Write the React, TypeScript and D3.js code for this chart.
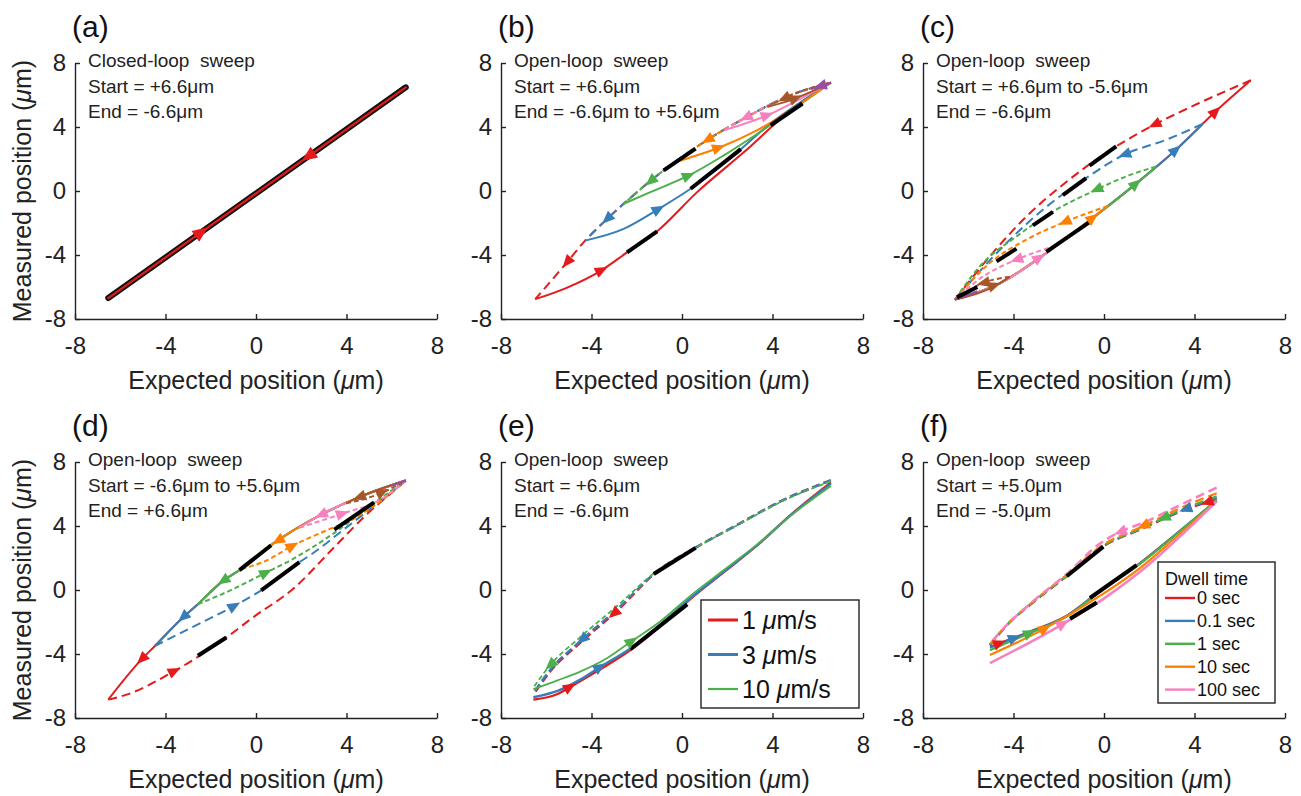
import React, { useEffect, useRef } from 'react';
import * as d3 from 'd3';

type Pt = [number, number];

const ticks = [-8, -4, 0, 4, 8];
const colors = ['#e41a1c', '#377eb8', '#4daf4a', '#ff7f00', '#f781bf', '#a65628', '#984ea3'];
const panelNames = ['(a)', '(b)', '(c)', '(d)', '(e)', '(f)'];
const notes = [
  ['Closed-loop  sweep', 'Start = +6.6μm', 'End = -6.6μm'],
  ['Open-loop  sweep', 'Start = +6.6μm', 'End = -6.6μm to +5.6μm'],
  ['Open-loop  sweep', 'Start = +6.6μm to -5.6μm', 'End = -6.6μm'],
  ['Open-loop  sweep', 'Start = -6.6μm to +5.6μm', 'End = +6.6μm'],
  ['Open-loop  sweep', 'Start = +6.6μm', 'End = -6.6μm'],
  ['Open-loop  sweep', 'Start = +5.0μm', 'End = -5.0μm'],
];
const speeds = ['1', '3', '10'];
const dwell = ['0 sec', '0.1 sec', '1 sec', '10 sec', '100 sec'];

// (a) closed loop
const aLine: Pt[] = [[6.62, 6.48], [-6.53, -6.69]];
const aArrowsDown = [2.3];
const aArrowsUp = [-2.4];

// (b) shared descending branch, turning points, ascending returns
const bShared: Pt[] = [[6.58, 6.77], [4.81, 5.99], [2.74, 4.53], [0.97, 3.06], [-0.81, 1.29], [-2.58, -0.8], [-3.47, -1.96], [-4.28, -3.1], [-5.09, -4.47], [-6.49, -6.76]];
const bTurns = [-6.49, -4.28, -2.58, -0.29, 1.85, 3.78, 5.7];
const bReturns: Pt[][] = [
  [[-5.1, -6.05], [-3.54, -4.94], [-2.43, -3.84], [-1.1, -2.52], [0.67, -0.07], [2.74, 2.43], [4.81, 5.05], [6.58, 6.77]],
  [[-2.58, -2.37], [-1.03, -1.12], [0.38, 0.14], [1.85, 1.71], [3.92, 4.22], [6.58, 6.77]],
  [[-1.4, -0.07], [0.3, 0.97], [1.85, 2.23], [3.78, 4.0], [6.58, 6.77]],
  [[0.67, 2.23], [1.71, 2.75], [3.33, 3.8], [5.25, 5.47], [6.58, 6.77]],
  [[3.78, 4.74], [5.25, 5.78], [6.58, 6.77]],
  [[4.81, 5.68], [5.7, 6.2], [6.58, 6.77]],
  [[6.1, 6.5], [6.58, 6.77]],
];
const bArrowsDown = [-5.09, -3.32, -1.4, 1.12, 2.82, 4.51, 6.1];
const bArrowsUp = [-3.54, -1.03, 0.3, 1.63, 3.78, 5.03, NaN];
const bBlack: Pt[][] = [[[-0.81, 1.29], [0.6, 2.65]], [[0.38, 0.14], [2.6, 2.62]], [[-2.43, -3.84], [-1.1, -2.52]], [[3.92, 4.11], [5.33, 5.47]]];

// (c) shared ascending branch, turning points, descending returns
const cShared: Pt[] = [[-6.59, -6.79], [-4.61, -5.77], [-2.55, -3.88], [-0.79, -2.0], [1.27, 0.29], [3.18, 2.58], [4.94, 4.98], [6.49, 6.92]];
const cTurns = [6.49, 4.36, 2.3, 0.17, -2.11, -4.17, -5.6];
const cReturns: Pt[][] = [
  [[4.21, 5.5], [2.23, 4.14], [0.54, 2.79], [-1.82, 0.39], [-3.43, -1.59], [-5.05, -4.09], [-6.59, -6.79]],
  [[2.74, 3.2], [0.9, 2.27], [-0.79, 0.81], [-2.7, -1.17], [-4.31, -3.25], [-6.59, -6.79]],
  [[0.98, 0.91], [-0.34, 0.08], [-2.11, -1.17], [-3.87, -2.84], [-5.49, -4.71], [-6.59, -6.79]],
  [[-1.67, -1.9], [-3.43, -3.04], [-5.05, -4.5], [-6.59, -6.79]],
  [[-3.87, -4.29], [-5.34, -5.34], [-6.59, -6.79]],
  [[-5.34, -5.75], [-6.59, -6.79]],
  [[-6.59, -6.79]],
];
const cArrowsUp = [4.94, 3.18, 1.42, -0.49, -2.85, -4.83, NaN];
const cArrowsDown = [2.23, 0.9, -0.34, -1.74, -3.87, -5.34, NaN];
const cBlack: Pt[][] = [[[-0.64, 1.59], [0.54, 2.79]], [[-1.82, -0.26], [-0.79, 0.81]], [[-3.14, -2.15], [-2.26, -1.31]], [[-4.75, -4.4], [-3.87, -3.6]], [[-2.55, -3.8], [-0.64, -1.95]], [[-6.5, -6.65], [-5.6, -6.0]]];

// (d) shared descending branch, turning points, ascending returns
const dShared: Pt[] = [[6.62, 6.84], [4.56, 5.8], [2.8, 4.65], [0.74, 2.88], [-0.65, 1.31], [-1.46, 0.57], [-2.57, -0.89], [-3.23, -1.72], [-4.47, -3.5], [-5.06, -4.34], [-6.53, -6.85]];
const dTurns = [-6.53, -4.47, -2.57, -0.65, 1.92, 3.98, 6.03];
const dReturns: Pt[][] = [
  [[-5.72, -6.54], [-3.59, -5.05], [-2.49, -4.11], [-1.31, -2.97], [-0.14, -1.72], [1.62, 0.05], [3.53, 2.78], [5.0, 4.87], [6.03, 6.12], [6.62, 6.84]],
  [[-2.79, -2.3], [-1.02, -1.04], [0.23, -0.02], [1.92, 1.74], [2.5, 2.28], [3.83, 3.73], [5.44, 5.5], [6.62, 6.84]],
  [[-1.02, 0.05], [0.3, 0.99], [1.62, 1.93], [3.38, 3.49], [5.29, 5.5], [6.62, 6.84]],
  [[0.45, 1.83], [1.62, 2.77], [3.09, 3.71], [4.41, 4.54], [5.73, 5.79], [6.62, 6.84]],
  [[3.83, 4.78], [5.44, 5.6], [6.62, 6.84]],
  [[5.29, 5.92], [6.62, 6.84]],
  [[6.62, 6.84]],
];
const dArrowsDown = [-5.06, -3.23, -1.46, 0.96, 2.87, 4.56, NaN];
const dArrowsUp = [-3.59, -0.95, 0.45, 1.62, 3.83, 5.6, NaN];
const dBlack: Pt[][] = [[[-0.73, 1.24], [0.67, 2.8]], [[-2.57, -4.11], [-1.31, -2.97]], [[0.23, -0.02], [1.92, 1.74]], [[3.46, 3.77], [5.22, 5.48]]];

// (e) sweep speed
const eDown: Pt[][] = [
  [[6.58, 6.85], [4.51, 5.65], [2.45, 4.08], [0.68, 2.71], [-1.1, 1.16], [-2.87, -1.3], [-4.5, -3.3], [-5.83, -5.1], [-6.57, -6.55]],
  [[6.58, 6.85], [4.51, 5.65], [2.45, 4.08], [0.68, 2.71], [-1.1, 1.16], [-2.87, -1.2], [-4.5, -3.2], [-5.83, -5.0], [-6.57, -6.45]],
  [[6.58, 6.8], [4.51, 5.6], [2.45, 4.05], [0.68, 2.7], [-1.1, 1.2], [-2.87, -1.0], [-4.5, -2.95], [-5.83, -4.7], [-6.57, -6.1]],
];
const eUp: Pt[][] = [
  [[-6.57, -6.85], [-5.5, -6.5], [-4.94, -6.05], [-3.61, -4.95], [-2.28, -3.75], [-0.95, -2.25], [0.38, -0.55], [1.85, 1.12], [3.33, 2.8], [4.81, 4.7], [6.58, 6.72]],
  [[-6.57, -6.7], [-5.5, -6.3], [-4.5, -5.6], [-3.61, -4.8], [-2.28, -3.65], [-0.95, -2.15], [0.38, -0.5], [1.85, 1.15], [3.33, 2.82], [4.81, 4.68], [6.58, 6.65]],
  [[-6.57, -6.2], [-5.5, -5.65], [-4.5, -5.1], [-3.3, -4.25], [-2.28, -3.25], [-0.95, -1.95], [0.38, -0.35], [1.85, 1.25], [3.33, 2.85], [4.81, 4.65], [6.58, 6.5]],
];
const eArrowsDown = [-3.02, -4.42, -5.83];
const eArrowsUp = [-4.94, -3.61, -2.21];
const eBlack: Pt[][] = [[[-1.25, 1.0], [0.6, 2.63]], [[-2.28, -3.7], [0.23, -0.9]]];

// (f) dwell time
const fDown: Pt[][] = [
  [[4.98, 5.68], [3.5, 4.97], [1.73, 3.85], [-0.18, 2.6], [-1.65, 0.86], [-3.13, -0.78], [-4.3, -2.22], [-5.04, -3.45]],
  [[4.98, 5.75], [3.5, 5.0], [1.73, 3.88], [-0.18, 2.62], [-1.65, 0.88], [-3.13, -0.76], [-4.3, -2.2], [-5.04, -3.42]],
  [[4.98, 5.85], [3.5, 5.05], [1.73, 3.9], [-0.18, 2.64], [-1.65, 0.9], [-3.13, -0.75], [-4.3, -2.2], [-5.04, -3.4]],
  [[4.98, 6.05], [3.5, 5.2], [1.73, 4.0], [-0.18, 2.7], [-1.65, 0.95], [-3.13, -0.72], [-4.3, -2.18], [-5.04, -3.4]],
  [[4.98, 6.4], [3.5, 5.4], [1.73, 4.2], [0.56, 3.54], [-0.18, 2.9], [-1.65, 1.0], [-3.13, -0.7], [-4.3, -2.2], [-5.04, -3.35]],
];
const fUp: Pt[][] = [
  [[-5.04, -3.55], [-3.42, -2.67], [-1.65, -1.6], [-0.18, -0.06], [1.59, 1.68], [3.21, 3.53], [4.98, 5.58]],
  [[-5.04, -3.6], [-3.42, -2.7], [-1.65, -1.62], [-0.18, -0.08], [1.59, 1.66], [3.21, 3.52], [4.98, 5.6]],
  [[-5.04, -3.76], [-3.42, -2.78], [-1.65, -1.66], [-0.18, -0.1], [1.59, 1.64], [3.21, 3.5], [4.98, 5.62]],
  [[-5.04, -4.06], [-2.68, -2.46], [-0.18, -0.37], [1.59, 1.37], [3.21, 3.33], [4.98, 5.53]],
  [[-5.04, -4.57], [-1.94, -2.22], [0.12, -0.41], [1.89, 1.48], [3.5, 3.53], [4.98, 5.55]],
];
const fArrowsDown = [4.54, 3.6, 2.64, 1.73, 0.71];
const fArrowsUp = [-4.6, -3.94, -3.27, -2.6, -1.8];
const fBlack: Pt[][] = [[[-1.65, 0.86], [-0.03, 2.71]], [[-0.62, -0.5], [1.44, 1.55]], [[-1.5, -1.8], [-0.32, -0.78]]];

const font = "'Liberation Sans', Arial, Helvetica, sans-serif";

function cut(pts: Pt[], x: number): Pt[] {
  const out: Pt[] = [pts[0]];
  const dir = Math.sign(pts[pts.length - 1][0] - pts[0][0]);
  for (let i = 1; i < pts.length; i++) {
    const [x0, y0] = pts[i - 1];
    const [x1, y1] = pts[i];
    if ((x1 - x) * dir >= 0) {
      const t = (x - x0) / (x1 - x0);
      out.push([x, y0 + t * (y1 - y0)]);
      return out;
    }
    out.push(pts[i]);
  }
  return out;
}

interface Curve { color: string; down: Pt[]; up: Pt[]; downDash: string | null; upDash: string | null; width: number; aDown: number; aUp: number }

const dashB = ['9,5', '9,5', '5,3', '5,3', '5,3', '5,3', '5,3'];

function buildPanels() {
  const b: Curve[] = colors.map((c, i) => {
    const down = cut(bShared, bTurns[i]);
    return { color: c, down, up: [down[down.length - 1], ...bReturns[i]], downDash: dashB[i], upDash: null, width: 2, aDown: bArrowsDown[i], aUp: bArrowsUp[i] };
  });
  const cc: Curve[] = colors.map((c, i) => {
    const up = cut(cShared, cTurns[i]);
    return { color: c, up, down: [up[up.length - 1], ...cReturns[i]], upDash: null, downDash: dashB[i], width: 2, aDown: cArrowsDown[i], aUp: cArrowsUp[i] };
  });
  const d: Curve[] = colors.map((c, i) => {
    const down = cut(dShared, dTurns[i]);
    return { color: c, down, up: [down[down.length - 1], ...dReturns[i]], downDash: null, upDash: dashB[i], width: 2, aDown: dArrowsDown[i], aUp: dArrowsUp[i] };
  });
  const e: Curve[] = speeds.map((_, i) => ({
    color: colors[i], down: eDown[i], up: eUp[i], downDash: i === 2 ? '5,3' : '8,4', upDash: null, width: i === 2 ? 1.8 : 2.4, aDown: eArrowsDown[i], aUp: eArrowsUp[i],
  }));
  const f: Curve[] = dwell.map((_, i) => ({
    color: colors[i], down: fDown[i], up: fUp[i], downDash: '9,5', upDash: null, width: i === 4 ? 2.6 : 2.2, aDown: fArrowsDown[i], aUp: fArrowsUp[i],
  }));
  return [
    { curves: [] as Curve[], black: [] as Pt[][] },
    { curves: b, black: bBlack },
    { curves: cc, black: cBlack },
    { curves: d, black: dBlack },
    { curves: e, black: eBlack },
    { curves: f, black: fBlack },
  ];
}

export default function App() {
  const ref = useRef<SVGSVGElement>(null);

  useEffect(() => {
    const svg = d3.select(ref.current);
    svg.selectAll('*').remove();
    const panels = buildPanels();
    const lefts = [75, 501, 923];
    const tops = [63, 462];
    const w = 362;
    const h = 256;

    panels.forEach((p, k) => {
      const left = lefts[k % 3];
      const top = tops[Math.floor(k / 3)];
      const x = d3.scaleLinear().domain([-8, 8]).range([left, left + w]);
      const y = d3.scaleLinear().domain([-8, 8]).range([top + h, top]);
      const g = svg.append('g');
      const line = d3.line<Pt>().x(d => x(d[0])).y(d => y(d[1])).curve(d3.curveMonotoneX);

      // axes
      const ax = g.append('g').attr('transform', `translate(0,${top + h})`)
        .call(d3.axisBottom(x).tickValues(ticks).tickSizeInner(-5).tickSizeOuter(0).tickPadding(18).tickFormat(d => String(d)));
      const ay = g.append('g').attr('transform', `translate(${left},0)`)
        .call(d3.axisLeft(y).tickValues(ticks).tickSizeInner(-5).tickSizeOuter(0).tickPadding(9).tickFormat(d => String(d)));
      [ax, ay].forEach(a => {
        a.attr('font-family', font).attr('font-size', 24);
        a.selectAll('path,line').attr('stroke', '#222').attr('stroke-width', 1.4);
        a.selectAll('text').attr('fill', '#222');
      });

      const xl = g.append('text').attr('x', left + w / 2).attr('y', top + h + 70).attr('text-anchor', 'middle')
        .attr('font-family', font).attr('font-size', 25).attr('fill', '#222');
      xl.append('tspan').text('Expected position (');
      xl.append('tspan').attr('font-style', 'italic').text('μ');
      xl.append('tspan').text('m)');
      if (k % 3 === 0) {
        const yl = g.append('text').attr('transform', `translate(31,${top + h / 2}) rotate(-90)`).attr('text-anchor', 'middle')
          .attr('font-family', font).attr('font-size', 25).attr('fill', '#222');
        yl.append('tspan').text('Measured position (');
        yl.append('tspan').attr('font-style', 'italic').text('μ');
        yl.append('tspan').text('m)');
      }

      g.append('text').attr('x', left - 3).attr('y', top - 26).attr('font-family', font).attr('font-size', 30).attr('fill', '#111').text(panelNames[k]);

      notes[k].forEach((t, i) => {
        g.append('text').attr('x', left + 13).attr('y', top + 4 + i * 25.5).attr('font-family', font).attr('font-size', 19)
          .attr('fill', '#222').style('white-space', 'pre').text(t);
      });

      const arrow = (pts: Pt[], xv: number, color: string, size = 1) => {
        if (Number.isNaN(xv)) return;
        for (let i = 1; i < pts.length; i++) {
          const [x0, y0] = pts[i - 1];
          const [x1, y1] = pts[i];
          if (x0 !== x1 && (xv - x0) * (xv - x1) <= 0) {
            const t = (xv - x0) / (x1 - x0);
            const yv = y0 + t * (y1 - y0);
            const ang = Math.atan2(y(y1) - y(y0), x(x1) - x(x0)) * 180 / Math.PI;
            const L = 6.5 * size;
            const W = 5.5 * size;
            g.append('path').attr('d', `M${L},0L${-L},${W}L${-L},${-W}Z`)
              .attr('transform', `translate(${x(xv)},${y(yv)}) rotate(${ang})`).attr('fill', color);
            return;
          }
        }
      };

      if (k === 0) {
        g.append('path').attr('d', line(aLine)).attr('fill', 'none').attr('stroke', '#111').attr('stroke-width', 6).attr('stroke-linecap', 'round');
        g.append('path').attr('d', line(aLine)).attr('fill', 'none').attr('stroke', colors[0]).attr('stroke-width', 2.2).attr('stroke-linecap', 'round');
        aArrowsDown.forEach(v => arrow(aLine, v, colors[0], 1.2));
        aArrowsUp.forEach(v => arrow(aLine.slice().reverse(), v, colors[0], 1.2));
        return;
      }

      p.curves.forEach(c => {
        [[c.down, c.downDash], [c.up, c.upDash]].forEach(([pts, dash]) => {
          g.append('path').attr('d', line(pts as Pt[])).attr('fill', 'none').attr('stroke', c.color)
            .attr('stroke-width', c.width).attr('stroke-dasharray', (dash as string) || null);
        });
      });
      p.black.forEach(s => {
        g.append('path').attr('d', d3.line()(s.map(d => [x(d[0]), y(d[1])] as [number, number])))
          .attr('stroke', '#000').attr('stroke-width', 4);
      });
      p.curves.forEach(c => {
        arrow(c.down, c.aDown, c.color);
        arrow(c.up, c.aUp, c.color);
      });

      if (k === 4) {
        const lx = left + w - 162;
        const ly = top + h - 118;
        g.append('rect').attr('x', lx).attr('y', ly).attr('width', 158).attr('height', 108)
          .attr('fill', '#fff').attr('stroke', '#222').attr('stroke-width', 1.4);
        speeds.forEach((s, i) => {
          const yy = ly + 20 + i * 34.5;
          g.append('line').attr('x1', lx + 7).attr('x2', lx + 37).attr('y1', yy).attr('y2', yy)
            .attr('stroke', colors[i]).attr('stroke-width', i === 2 ? 2.2 : 3);
          const t = g.append('text').attr('x', lx + 41).attr('y', yy + 9).attr('font-family', font).attr('font-size', 25).attr('fill', '#111');
          t.append('tspan').text(`${s} `);
          t.append('tspan').attr('font-style', 'italic').text('μ');
          t.append('tspan').text('m/s');
        });
      }
      if (k === 5) {
        const lx = left + w - 127;
        const ly = top + h - 156;
        g.append('rect').attr('x', lx).attr('y', ly).attr('width', 117).attr('height', 141)
          .attr('fill', '#fff').attr('stroke', '#222').attr('stroke-width', 1.4);
        g.append('text').attr('x', lx + 7).attr('y', ly + 23).attr('font-family', font).attr('font-size', 18).attr('fill', '#111').text('Dwell time');
        dwell.forEach((s, i) => {
          const yy = ly + 36 + i * 22.9;
          g.append('line').attr('x1', lx + 7).attr('x2', lx + 37).attr('y1', yy).attr('y2', yy)
            .attr('stroke', colors[i]).attr('stroke-width', 2.4);
          g.append('text').attr('x', lx + 39).attr('y', yy + 6).attr('font-family', font).attr('font-size', 18).attr('fill', '#111').text(s);
        });
      }
    });
  }, []);

  return <svg ref={ref} width={1301} height={796} style={{ position: 'absolute', left: 0, top: 0, background: '#fff' }} />;
}
